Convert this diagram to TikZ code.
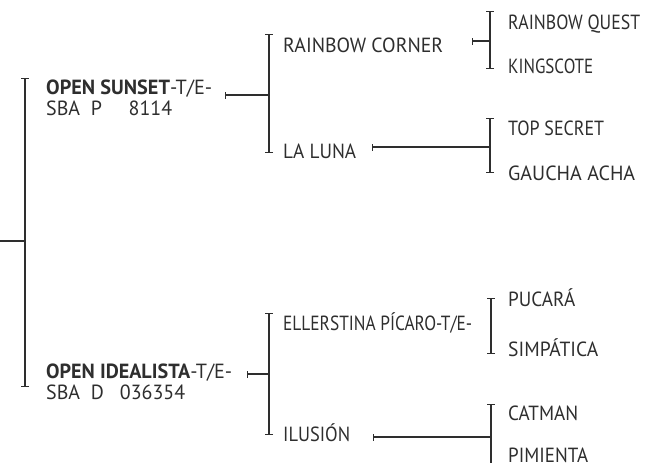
\documentclass[tikz,border=0pt]{standalone}
\usepackage{fontspec}
\setmainfont{PT Sans}
\usetikzlibrary{arrows.meta}
\definecolor{ink}{HTML}{2E2E2E}
\newsavebox\fitbox
\newcommand\fitw[2]{\sbox\fitbox{#2}\scalebox{\fpeval{#1/\the\wd\fitbox}}[1]{\usebox\fitbox}}
\begin{document}
\begin{tikzpicture}[x=1pt,y=-1pt,
  lbl/.style={anchor=base west,inner sep=0pt,text=ink,font=\fontsize{20.5}{21}\selectfont,align=left},
  brk/.style={draw=ink,line width=1.2pt,{Bar[width=8pt,line width=1.2pt]}-{Bar[width=8pt,line width=1.2pt]}},
  conn/.style={draw=ink,line width=1.2pt,{Bar[width=7pt,line width=1.2pt]}-},
  plain/.style={draw=ink,line width=1.2pt}]
\useasboundingbox (0,0) rectangle (654,463);
% root
\coordinate (r0) at (0,241);
\coordinate (rt) at (25,78);
\coordinate (rb) at (25,387);
\coordinate (rm) at (25,241);
\draw[brk] (rt) -- (rb);
\draw[plain] (r0) -- (rm);
% generation 1
\node[lbl] (sun) at (46,115) {\fitw{166}{\textbf{OPEN SUNSET}-T/E-}\\\fitw{126}{SBA\ \ P\ \ \ \ \ 8114}};
\node[lbl] (ide) at (46,399) {\fitw{186}{\textbf{OPEN IDEALISTA}-T/E-}\\\fitw{139}{SBA\ \ D\ \ \ 036354}};
% generation 1 connectors
\coordinate (s1) at (225,95);
\coordinate (b1t) at (269,34);
\coordinate (b1b) at (269,153);
\coordinate (b1m) at (269,95);
\draw[brk] (b1t) -- (b1b);
\draw[conn] (s1) -- (b1m);
\coordinate (s2) at (247,374);
\coordinate (b2t) at (269,313);
\coordinate (b2b) at (269,435);
\coordinate (b2m) at (269,374);
\draw[brk] (b2t) -- (b2b);
\draw[conn] (s2) -- (b2m);
% generation 2
\node[lbl] (rc) at (283,52) {\fitw{160}{RAINBOW CORNER}};
\node[lbl] (ll) at (283,158) {\fitw{73}{LA LUNA}};
\node[lbl] (ep) at (283,330) {\fitw{189}{ELLERSTINA PÍCARO-T/E-}};
\node[lbl] (il) at (283,441) {\fitw{67}{ILUSIÓN}};
% generation 2 connectors
\coordinate (c1) at (472,41);
\coordinate (d1t) at (490,11);
\coordinate (d1b) at (490,69);
\coordinate (d1m) at (490,41);
\draw[brk] (d1t) -- (d1b);
\draw[conn] (c1) -- (d1m);
\coordinate (c2) at (372,147);
\coordinate (d2t) at (490,118);
\coordinate (d2b) at (490,173);
\coordinate (d2m) at (490,147);
\draw[brk] (d2t) -- (d2b);
\draw[conn] (c2) -- (d2m);
\coordinate (d3t) at (491,298);
\coordinate (d3b) at (491,354);
\draw[brk] (d3t) -- (d3b);
\coordinate (c4) at (373,437);
\coordinate (d4t) at (491,404);
\coordinate (d4b) at (491,466);
\coordinate (d4m) at (491,437);
\draw[brk] (d4t) -- (d4b);
\draw[conn] (c4) -- (d4m);
% generation 3
\node[lbl] (rq) at (508,30) {\fitw{132}{RAINBOW QUEST}};
\node[lbl] (ks) at (508,73) {\fitw{85}{KINGSCOTE}};
\node[lbl] (ts) at (508,135) {\fitw{96}{TOP SECRET}};
\node[lbl] (ga) at (508,180) {\fitw{127}{GAUCHA ACHA}};
\node[lbl] (pu) at (508,306) {\fitw{67}{PUCARÁ}};
\node[lbl] (si) at (508,356) {\fitw{90}{SIMPÁTICA}};
\node[lbl] (ca) at (508,420) {\fitw{70}{CATMAN}};
\node[lbl] (pi) at (508,462) {\fitw{80}{PIMIENTA}};
\end{tikzpicture}
\end{document}
